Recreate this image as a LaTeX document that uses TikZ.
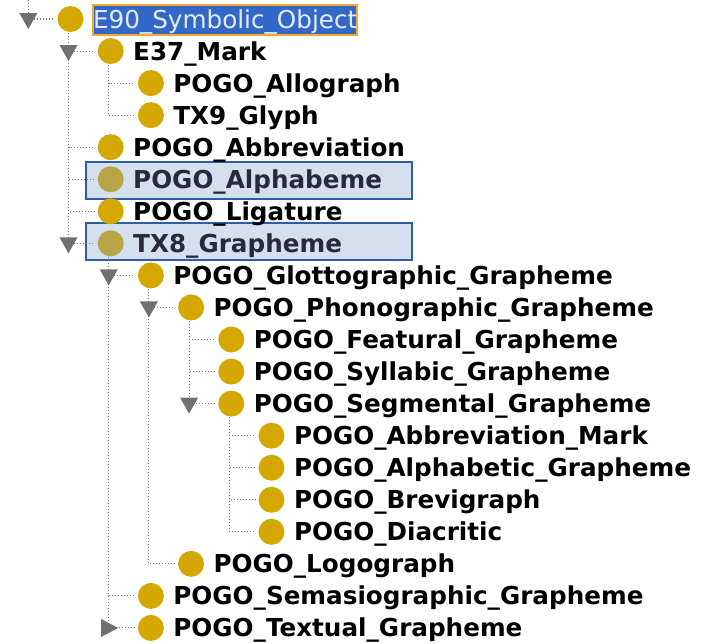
\documentclass[tikz,border=0pt]{standalone}
\usepackage{fontspec}
\setmainfont{DejaVu Sans}
\usetikzlibrary{calc}

\definecolor{clsgold}{RGB}{212,168,0}
\definecolor{clsdim}{RGB}{186,164,72}
\definecolor{dotgray}{RGB}{125,125,125}
\definecolor{expgray}{RGB}{112,112,112}
\definecolor{selblue}{RGB}{52,104,200}
\definecolor{selorange}{RGB}{250,168,40}
\definecolor{hlfill}{RGB}{212,224,238}
\definecolor{hlline}{RGB}{46,92,168}
\definecolor{hltext}{RGB}{40,40,62}
\definecolor{seltext}{RGB}{228,236,252}

\tikzset{every picture/.style={line width=0.75pt},
  cls/.style={circle,fill=#1,minimum size=19.5pt,inner sep=0pt},
  cls/.default=clsgold,
  lbl/.style={anchor=base west,inner sep=0pt,font=\fontsize{18.5}{22}\selectfont\bfseries},
  tree/.style={draw=dotgray,line width=0.8pt,dash pattern=on 0.75pt off 1.5pt,shorten >=2.25pt},
  expander/.style={fill=expgray}}

\begin{document}
\begin{tikzpicture}[x=0.75pt,y=0.75pt,yscale=-1,xscale=1]
\useasboundingbox (0,0) rectangle (710,643);

%Selection boxes
\draw [fill=selblue,draw=selorange,line width=1.1pt] (93,5) rectangle (357,35) ;
\draw [fill=hlfill,draw=hlline,line width=1.1pt] (86,162) rectangle (412,199) ;
\draw [fill=hlfill,draw=hlline,line width=1.1pt] (86,223) rectangle (412,260) ;

%Root class
\node [cls] (c0) at (70.5,19) {};
\coordinate (t0) at (28.3,19);
\coordinate (top) at (28.3,0);
\node [lbl,font=\fontsize{18.5}{22}\selectfont,text=seltext] (l0) at (92.5,28) {E90\_Symbolic\_Object};

%Subclasses: index/level/parent/icon colour/text colour/name
\foreach \i/\lvl/\p/\col/\tc/\txt in {
  1/1/0/clsgold/black/E37\_Mark,
  2/2/1/clsgold/black/POGO\_Allograph,
  3/2/1/clsgold/black/TX9\_Glyph,
  4/1/0/clsgold/black/POGO\_Abbreviation,
  5/1/0/clsdim/hltext/POGO\_Alphabeme,
  6/1/0/clsgold/black/POGO\_Ligature,
  7/1/0/clsdim/hltext/TX8\_Grapheme,
  8/2/7/clsgold/black/POGO\_Glottographic\_Grapheme,
  9/3/8/clsgold/black/POGO\_Phonographic\_Grapheme,
  10/4/9/clsgold/black/POGO\_Featural\_Grapheme,
  11/4/9/clsgold/black/POGO\_Syllabic\_Grapheme,
  12/4/9/clsgold/black/POGO\_Segmental\_Grapheme,
  13/5/12/clsgold/black/POGO\_Abbreviation\_Mark,
  14/5/12/clsgold/black/POGO\_Alphabetic\_Grapheme,
  15/5/12/clsgold/black/POGO\_Brevigraph,
  16/5/12/clsgold/black/POGO\_Diacritic,
  17/3/8/clsgold/black/POGO\_Logograph,
  18/2/7/clsgold/black/POGO\_Semasiographic\_Grapheme,
  19/2/7/clsgold/black/POGO\_Textual\_Grapheme}
{
  \node [cls=\col] (c\i) at (70.5+40.2*\lvl,19+32.05*\i) {};
  \coordinate (t\i) at (28.3+40.2*\lvl,19+32.05*\i);
  \node [lbl,text=\tc] (l\i) at (92.5+40.2*\lvl,28+32.05*\i) {\txt};
  \draw [tree] ([xshift=-1.5pt]c\p.south) |- (c\i.west) ;
}

%Dotted connectors of the root
\draw [tree,shorten >=0pt] (top) -- (t0) ;
\draw [tree] (t0) -- (c0.west) ;

%Expanded handles
\foreach \i in {0,1,7,8,9,12}
  \fill [expander] (t\i) ++(-9,-6) -- ++(18,0) -- ++(-9,16) -- cycle ;
%Collapsed handle
\fill [expander] (t19) ++(-7.5,-9) -- ++(0,18) -- ++(17,-9) -- cycle ;

\end{tikzpicture}
\end{document}
